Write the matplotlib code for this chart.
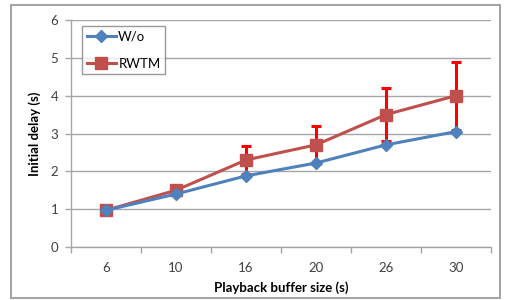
import matplotlib
matplotlib.use("Agg")
import matplotlib.pyplot as plt
from matplotlib.patches import Rectangle

categories = ["6", "10", "16", "20", "26", "30"]
wo = [0.97, 1.40, 1.88, 2.22, 2.70, 3.05]
rwtm = [0.97, 1.50, 2.30, 2.70, 3.50, 4.00]
rwtm_err = [0.0, 0.0, 0.38, 0.50, 0.70, 0.90]
yticks = [0, 1, 2, 3, 4, 5, 6]

plt.rcParams['font.family'] = ['Lato', 'DejaVu Sans']

W, H = 506, 300
fig = plt.figure(figsize=(W / 100, H / 100), dpi=100)
ax = fig.add_axes([71 / W, 1 - 247 / H, 420 / W, 227 / H])

x = list(range(len(categories)))
grid_c = "#A6A6A6"

ebx = [xi for xi, e in zip(x, rwtm_err) if e > 0]
eby = [v for v, e in zip(rwtm, rwtm_err) if e > 0]
ebe = [e for e in rwtm_err if e > 0]
ax.errorbar(ebx, eby, yerr=ebe, fmt="none", ecolor="#FF0000", elinewidth=2.2,
            capsize=3.5, capthick=2.2, zorder=2)
ax.plot(x, rwtm, color="#C0504D", lw=2.2, marker="s", markersize=9,
        label="RWTM", zorder=3)
ax.plot(x, wo, color="#4F81BD", lw=2.2, marker="D", markersize=6.5,
        label="W/o", zorder=4)

ax.set_xlim(-0.5, len(categories) - 0.5)
ax.set_ylim(0, 6)
ax.set_yticks(yticks)
ax.set_xticks(x)
ax.set_xticklabels(categories)
ax.set_xticks([i - 0.5 for i in range(len(categories) + 1)], minor=True)
fs = 9.5
ax.tick_params(axis="x", which="major", length=0, pad=11, labelsize=fs)
ax.tick_params(axis="x", which="minor", length=4, color=grid_c, width=1)
ax.tick_params(axis="y", length=4, color=grid_c, width=1, pad=5, labelsize=fs)
for lab in ax.get_xticklabels() + ax.get_yticklabels():
    lab.set_color("#404040")
ax.yaxis.grid(True, color=grid_c, lw=1)
ax.set_axisbelow(True)
for s in ["top", "right"]:
    ax.spines[s].set_visible(False)
for s in ["left", "bottom"]:
    ax.spines[s].set_color(grid_c)
    ax.spines[s].set_linewidth(1)

ax.set_xlabel("Playback buffer size (s)", fontsize=fs, fontweight="bold", labelpad=5)
ax.set_ylabel("Initial delay (s)", fontsize=fs, fontweight="bold", labelpad=7)

handles, labels = ax.get_legend_handles_labels()
leg = ax.legend(handles[::-1], labels[::-1], loc="upper left",
                bbox_to_anchor=(11 / 420, 1 - 6 / 227), fontsize=fs,
                frameon=True, fancybox=False, edgecolor="#808080",
                handlelength=2.2, borderpad=0.35, labelspacing=1.15,
                handletextpad=0.2, borderaxespad=0)
leg.get_frame().set_linewidth(1)

fig.patches.append(Rectangle((11 / W, 1 - 298 / H), 489 / W, 293 / H,
                             transform=fig.transFigure, fill=False,
                             edgecolor="#A6A6A6", lw=1.5))

fig.savefig("out.png", dpi=100)
